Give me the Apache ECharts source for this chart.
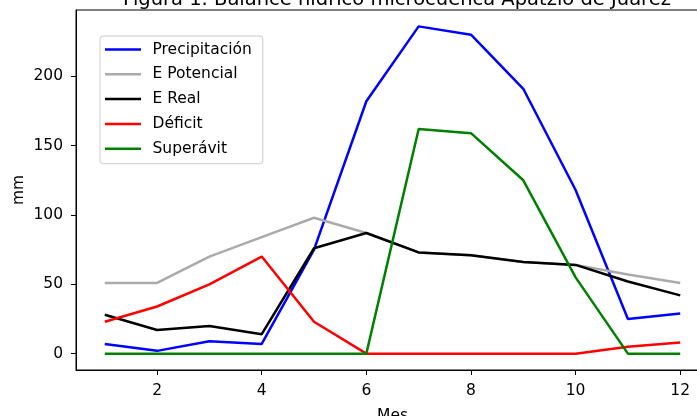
<!DOCTYPE html>
<html>
<head>
<meta charset="utf-8">
<script src="https://cdn.jsdelivr.net/npm/echarts@6/dist/echarts.min.js"></script>
<style>
html,body{margin:0;padding:0;background:#fff;}
#chart{width:697px;height:416px;}
</style>
</head>
<body>
<div id="chart"></div>
<script>
var months = [1,2,3,4,5,6,7,8,9,10,11,12];
var precipitacion = [7,2,9,7,75,182,236,230,191,118,25,29];
var ePotencial = [51,51,70,84,98,87,73,71,66,64,57,51];
var eReal = [28,17,20,14,76,87,73,71,66,64,52,42];
var deficit = [23,34,50,70,23,0,0,0,0,0,5,8];
var superavit = [0,0,0,0,0,0,162,159,125,55,0,0];
var xTicks = [2,4,6,8,10,12];
var yTicks = [0,50,100,150,200];
var titleText = 'Figura 1. Balance hídrico microcuenca Apatzio de Juárez';

var FONT = 'DejaVu Sans';
var FS = 15.5;
function pairs(vals){ return months.map(function(m,i){ return [m, vals[i]]; }); }
function mk(name, vals, color){
  return {name:name, type:'line', data:pairs(vals), symbol:'none', showSymbol:false,
    lineStyle:{color:color, width:2.5}, itemStyle:{color:color}, animation:false};
}
var names = ['Precipitación','E Potencial','E Real','Déficit','Superávit'];
var chart = echarts.init(document.getElementById('chart'), null, {renderer:'canvas'});
chart.setOption({
  animation:false,
  backgroundColor:'#fff',
  title:{text:titleText, left:392, textAlign:'center', top:-15,
    textStyle:{fontFamily:FONT, fontSize:19.5, fontWeight:'normal', color:'#000'}},
  grid:{left:76, top:10, width:633, height:360, show:true, borderColor:'#000', borderWidth:1,
    containLabel:false, outerBoundsMode:'none'},
  legend:{orient:'vertical', left:100, top:36, padding:[5.5,11,7,5], itemGap:8.8,
    itemWidth:36, itemHeight:2.5, icon:'rect', backgroundColor:'#fff', borderColor:'#cccccc', borderWidth:1, borderRadius:3,
    textStyle:{fontFamily:FONT, fontSize:FS, color:'#000', padding:[0,0,0,6.5]},
    data:names.map(function(n){return {name:n, icon:'rect'};})},
  xAxis:{type:'value', min:0.45, max:12.55, name:'Mes', nameLocation:'middle', nameGap:38,
    nameTextStyle:{fontFamily:FONT, fontSize:FS, color:'#000'},
    axisLine:{show:true, onZero:false, lineStyle:{color:'#000', width:1}},
    axisTick:{show:true, length:5, customValues:xTicks, lineStyle:{color:'#000'}},
    axisLabel:{customValues:xTicks, fontFamily:FONT, fontSize:FS, color:'#000', margin:13},
    splitLine:{show:false}},
  yAxis:{type:'value', min:-11.8, max:247.8, name:'mm', nameLocation:'middle', nameGap:49,
    nameMoveOverlap:false,
    nameTextStyle:{fontFamily:FONT, fontSize:FS, color:'#000'},
    axisLine:{show:true, onZero:false, lineStyle:{color:'#000', width:1}},
    axisTick:{show:true, length:5, customValues:yTicks, lineStyle:{color:'#000'}},
    axisLabel:{customValues:yTicks, fontFamily:FONT, fontSize:FS, color:'#000', margin:13},
    splitLine:{show:false}},
  series:[
    mk('Precipitación', precipitacion, '#0000ff'),
    mk('E Potencial', ePotencial, '#aaaaaa'),
    mk('E Real', eReal, '#000000'),
    mk('Déficit', deficit, '#ff0000'),
    mk('Superávit', superavit, '#008000')
  ]
});
</script>
</body>
</html>
